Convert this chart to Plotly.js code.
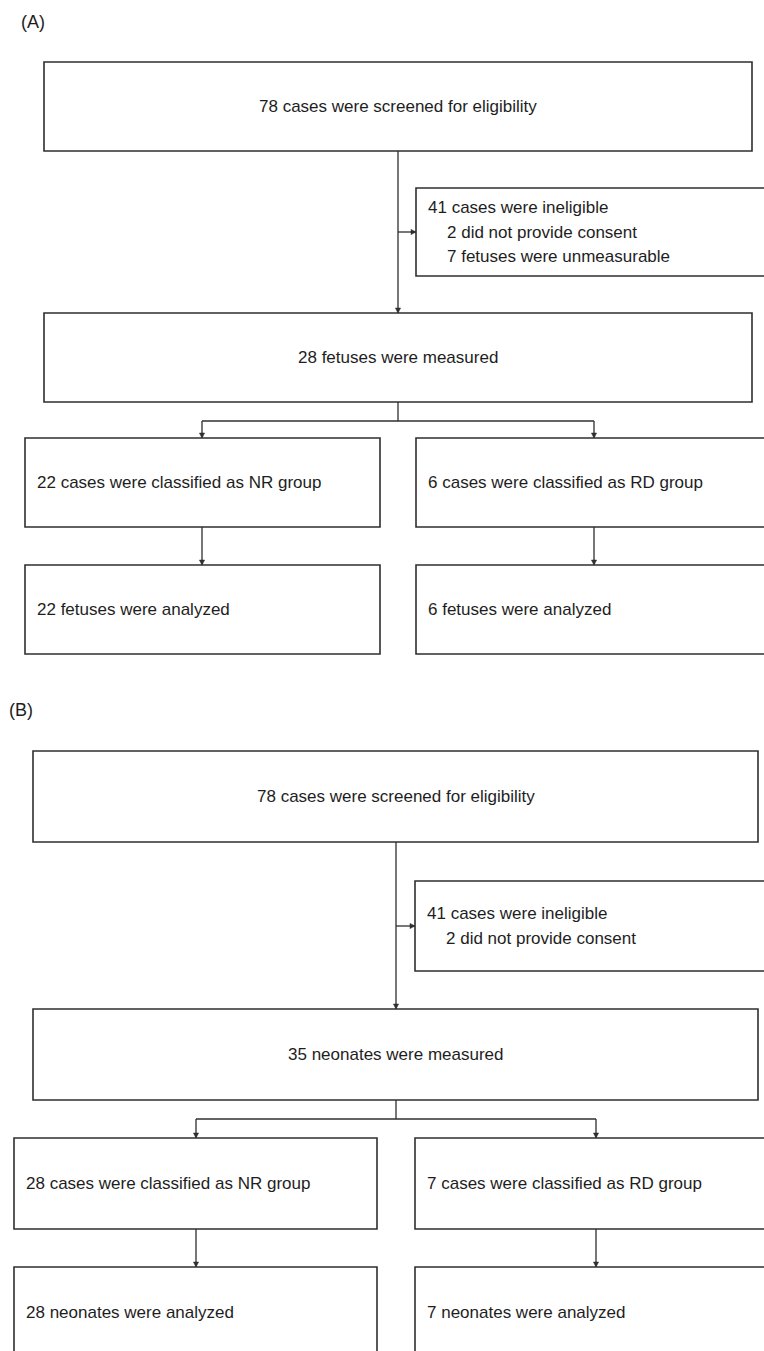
<!DOCTYPE html>
<html>
<head>
<meta charset="utf-8">
<script src="https://cdn.plot.ly/plotly-3.0.1.min.js"></script>
<style>
  html, body { margin: 0; padding: 0; background: #ffffff; }
  #chart { width: 764px; height: 1351px; }
</style>
</head>
<body>
<div id="chart"></div>
<script>
// ---------------- DATA ----------------
const panelLabels = ['(A)', '(B)'];
const screened = [78, 78];
const ineligible = [41, 41];
const noConsent = [2, 2];
const unmeasurable = [7, null];
const subjectNoun = ['fetuses', 'neonates'];
const measured = [28, 35];
const nrCases = [22, 28];
const rdCases = [6, 7];

// ---------------- LAYOUT GEOMETRY (pixels) ----------------
const geom = [
  { label: [19, 22], b1: [44, 752, 62, 151], spine: 398, side: [416, 766, 188, 276],
    b2: [44, 752, 313, 402], branchY: 421, grpL: [25, 380], grpR: [416, 766],
    grpY: [438, 527], anaY: [565, 654], armL: 202, armR: 594 },
  { label: [7, 710], b1: [33, 758, 751, 842], spine: 396, side: [415, 766, 881, 971],
    b2: [33, 758, 1009, 1100], branchY: 1119, grpL: [14, 377], grpR: [415, 766],
    grpY: [1138, 1229], anaY: [1267, 1358], armL: 196, armR: 596 }
];

const LINE = '#2f2f2f';
const TXT = '#1e1e1e';
const FONT = 'Liberation Sans, Arial, sans-serif';
const FS = 17;
const LW = 1.6;

const shapes = [];
const annotations = [];

function rect(x0, x1, y0, y1) {
  shapes.push({ type: 'rect', xref: 'x', yref: 'y', x0, x1, y0, y1,
    line: { color: LINE, width: LW }, fillcolor: 'rgba(0,0,0,0)' });
}
function seg(x0, y0, x1, y1) {
  shapes.push({ type: 'line', xref: 'x', yref: 'y', x0, y0, x1, y1,
    line: { color: LINE, width: 1.3 } });
}
function headDown(x, y) {
  const w = 2.6, h = 5;
  shapes.push({ type: 'path', xref: 'x', yref: 'y',
    path: `M ${x} ${y} L ${x - w} ${y - h} L ${x + w} ${y - h} Z`,
    fillcolor: LINE, line: { color: LINE, width: 0.5 } });
}
function headRight(x, y) {
  const w = 2.6, h = 5;
  shapes.push({ type: 'path', xref: 'x', yref: 'y',
    path: `M ${x} ${y} L ${x - h} ${y - w} L ${x - h} ${y + w} Z`,
    fillcolor: LINE, line: { color: LINE, width: 0.5 } });
}
function text(t, x, y, anchor, size) {
  annotations.push({ text: t, x, y, xref: 'x', yref: 'y', showarrow: false,
    xanchor: anchor, yanchor: 'middle', align: 'left',
    font: { family: FONT, size: size || FS, color: TXT } });
}

geom.forEach((g, i) => {
  // panel label
  text(panelLabels[i], g.label[0], g.label[1], 'left', 18);

  // box 1: screened
  rect(g.b1[0], g.b1[1], g.b1[2], g.b1[3]);
  text(`${screened[i]} cases were screened for eligibility`, (g.b1[0] + g.b1[1]) / 2,
       (g.b1[2] + g.b1[3]) / 2, 'center');

  // spine from box1 to box2
  seg(g.spine, g.b1[3], g.spine, g.b2[2]);
  headDown(g.spine, g.b2[2]);

  // side box: exclusions
  rect(g.side[0], g.side[1], g.side[2], g.side[3]);
  const sideMid = (g.side[2] + g.side[3]) / 2;
  seg(g.spine, sideMid, g.side[0], sideMid);
  headRight(g.side[0], sideMid);
  const lines = [{ t: `${ineligible[i]} cases were ineligible`, ind: 0 },
                 { t: `${noConsent[i]} did not provide consent`, ind: 19 }];
  if (unmeasurable[i] !== null) {
    lines.push({ t: `${unmeasurable[i]} ${subjectNoun[i]} were unmeasurable`, ind: 19 });
  }
  const lh = 24.5;
  const startY = sideMid - (lines.length - 1) * lh / 2;
  lines.forEach((l, k) => text(l.t, g.side[0] + 10 + l.ind, startY + k * lh, 'left'));

  // box 2: measured
  rect(g.b2[0], g.b2[1], g.b2[2], g.b2[3]);
  text(`${measured[i]} ${subjectNoun[i]} were measured`, (g.b2[0] + g.b2[1]) / 2,
       (g.b2[2] + g.b2[3]) / 2, 'center');

  // branch
  seg(g.spine, g.b2[3], g.spine, g.branchY);
  seg(g.armL, g.branchY, g.armR, g.branchY);
  seg(g.armL, g.branchY, g.armL, g.grpY[0]);
  seg(g.armR, g.branchY, g.armR, g.grpY[0]);
  headDown(g.armL, g.grpY[0]);
  headDown(g.armR, g.grpY[0]);

  // group boxes
  rect(g.grpL[0], g.grpL[1], g.grpY[0], g.grpY[1]);
  rect(g.grpR[0], g.grpR[1], g.grpY[0], g.grpY[1]);
  const gm = (g.grpY[0] + g.grpY[1]) / 2;
  text(`${nrCases[i]} cases were classified as NR group`, g.grpL[0] + 10, gm, 'left');
  text(`${rdCases[i]} cases were classified as RD group`, g.grpR[0] + 10, gm, 'left');

  // arrows to analyzed
  seg(g.armL, g.grpY[1], g.armL, g.anaY[0]);
  seg(g.armR, g.grpY[1], g.armR, g.anaY[0]);
  headDown(g.armL, g.anaY[0]);
  headDown(g.armR, g.anaY[0]);

  // analyzed boxes
  rect(g.grpL[0], g.grpL[1], g.anaY[0], g.anaY[1]);
  rect(g.grpR[0], g.grpR[1], g.anaY[0], g.anaY[1]);
  const am = g.anaY[0] + (g.grpY[1] - g.grpY[0]) / 2;
  text(`${nrCases[i]} ${subjectNoun[i]} were analyzed`, g.grpL[0] + 10, am, 'left');
  text(`${rdCases[i]} ${subjectNoun[i]} were analyzed`, g.grpR[0] + 10, am, 'left');
});

const layout = {
  width: 764, height: 1351,
  margin: { l: 0, r: 0, t: 0, b: 0, pad: 0 },
  paper_bgcolor: '#ffffff', plot_bgcolor: '#ffffff',
  showlegend: false,
  xaxis: { range: [0, 764], visible: false, fixedrange: true },
  yaxis: { range: [1351, 0], visible: false, fixedrange: true },
  shapes, annotations
};

Plotly.newPlot('chart', [{ x: [], y: [], type: 'scatter', mode: 'markers', hoverinfo: 'skip' }],
  layout, { staticPlot: true, displayModeBar: false });
</script>
</body>
</html>
